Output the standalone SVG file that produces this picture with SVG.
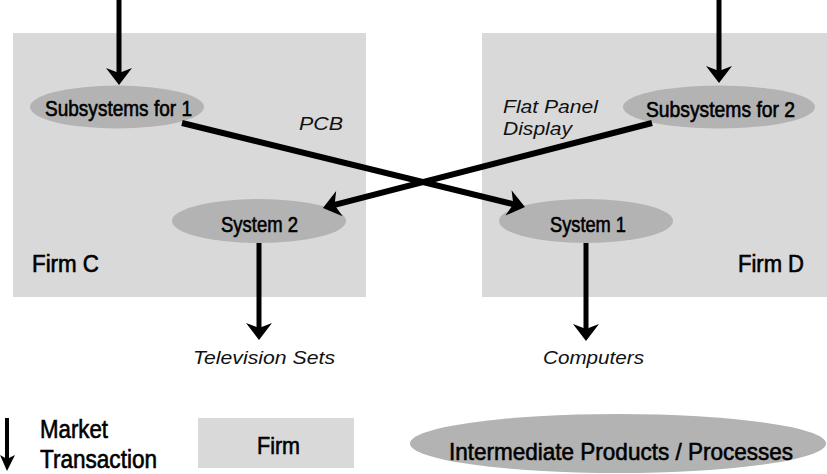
<svg xmlns="http://www.w3.org/2000/svg" width="827" height="474" viewBox="0 0 827 474">
  <style>
    .firm { fill: #d9d9d9; }
    .proc { fill: #b3b3b3; }
    .lbl { font-family: "Liberation Sans Narrow", "Liberation Sans", Arial, sans-serif; fill: #000; stroke: #000; stroke-width: 0.6; }
    .it { font-family: "Liberation Sans", Arial, sans-serif; font-style: italic; fill: #111; }
    .conn { stroke: #000; fill: none; }
  </style>
  <defs>
    <marker id="ah" markerUnits="userSpaceOnUse" viewBox="-18 -14 19 28" markerWidth="19" markerHeight="28" refX="-11" refY="0" orient="auto">
      <path d="M0,0 L-17,-13 L-12,0 L-17,13 Z" fill="#000"/>
    </marker>
  </defs>

  <rect width="827" height="474" fill="#ffffff"/>

  <g id="firm-c">
    <rect class="firm" x="13" y="33" width="353" height="264"/>
    <text class="lbl" x="32" y="272" font-size="23" textLength="67" lengthAdjust="spacingAndGlyphs">Firm C</text>
  </g>
  <g id="firm-d">
    <rect class="firm" x="482" y="33" width="345" height="264"/>
    <text class="lbl" x="738" y="272" font-size="23" textLength="66" lengthAdjust="spacingAndGlyphs">Firm D</text>
  </g>

  <g id="subsystems-1">
    <ellipse class="proc" cx="117" cy="107" rx="87" ry="21.5"/>
    <text class="lbl" x="45" y="116" font-size="21.5" textLength="147" lengthAdjust="spacingAndGlyphs">Subsystems for 1</text>
  </g>
  <g id="subsystems-2">
    <ellipse class="proc" cx="719" cy="107" rx="96" ry="21.5"/>
    <text class="lbl" x="646" y="117" font-size="21.5" textLength="149" lengthAdjust="spacingAndGlyphs">Subsystems for 2</text>
  </g>
  <g id="system-2">
    <ellipse class="proc" cx="259" cy="221" rx="87" ry="22"/>
    <text class="lbl" x="221" y="232" font-size="22" textLength="77" lengthAdjust="spacingAndGlyphs">System 2</text>
  </g>
  <g id="system-1">
    <ellipse class="proc" cx="586" cy="221" rx="87" ry="22"/>
    <text class="lbl" x="550" y="232" font-size="22" textLength="76" lengthAdjust="spacingAndGlyphs">System 1</text>
  </g>

  <g id="labels">
    <text class="it" x="299" y="130" font-size="19" textLength="44" lengthAdjust="spacingAndGlyphs">PCB</text>
    <text class="it" x="503" y="113" font-size="19" textLength="95" lengthAdjust="spacingAndGlyphs">Flat Panel</text>
    <text class="it" x="503" y="135" font-size="19" textLength="69" lengthAdjust="spacingAndGlyphs">Display</text>
    <text class="it" x="193" y="364" font-size="19" textLength="142" lengthAdjust="spacingAndGlyphs">Television Sets</text>
    <text class="it" x="543" y="364" font-size="19" textLength="101" lengthAdjust="spacingAndGlyphs">Computers</text>
  </g>

  <g id="connectors">
    <line class="conn" x1="119" y1="0" x2="119" y2="74" stroke-width="5" marker-end="url(#ah)"/>
    <line class="conn" x1="719" y1="0" x2="719" y2="72" stroke-width="5" marker-end="url(#ah)"/>
    <line class="conn" x1="182" y1="123" x2="514.3" y2="204.4" stroke-width="6" marker-end="url(#ah)"/>
    <line class="conn" x1="652" y1="123" x2="333.6" y2="205.2" stroke-width="6" marker-end="url(#ah)"/>
    <line class="conn" x1="259" y1="243" x2="259" y2="329" stroke-width="5" marker-end="url(#ah)"/>
    <line class="conn" x1="586" y1="243" x2="586" y2="330" stroke-width="5" marker-end="url(#ah)"/>
  </g>

  <g id="legend">
    <g id="legend-market">
      <line x1="7" y1="418" x2="7" y2="462" stroke="#000" stroke-width="4"/>
      <path d="M7,471 L0,455 L7,459 L15,455 Z" fill="#000"/>
      <text class="lbl" x="40" y="438" font-size="25" textLength="68" lengthAdjust="spacingAndGlyphs">Market</text>
      <text class="lbl" x="40" y="468" font-size="25" textLength="117" lengthAdjust="spacingAndGlyphs">Transaction</text>
    </g>
    <g id="legend-firm">
      <rect class="firm" x="198" y="418" width="156" height="50"/>
      <text class="lbl" x="257" y="454" font-size="24" textLength="43" lengthAdjust="spacingAndGlyphs">Firm</text>
    </g>
    <g id="legend-process">
      <ellipse class="proc" cx="618" cy="443.5" rx="208" ry="29.5"/>
      <text class="lbl" x="449" y="460" font-size="24" textLength="344" lengthAdjust="spacingAndGlyphs">Intermediate Products / Processes</text>
    </g>
  </g>
</svg>
